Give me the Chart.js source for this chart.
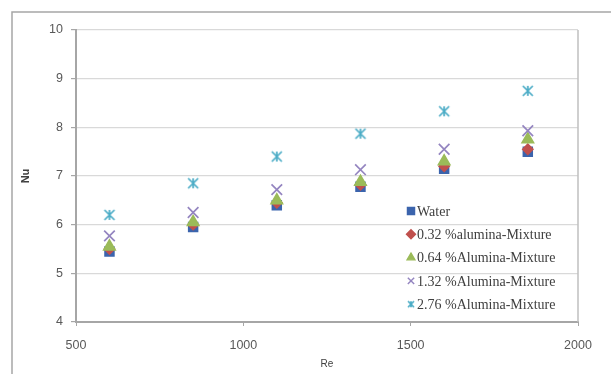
<!DOCTYPE html>
<html>
<head>
<meta charset="utf-8">
<script src="https://cdn.jsdelivr.net/npm/chart.js@4.4.0/dist/chart.umd.min.js"></script>
<style>
  html, body { margin: 0; padding: 0; background: #fff; }
  #wrap { width: 611px; height: 374px; }
</style>
</head>
<body>
<div id="wrap"><canvas id="chart" width="611" height="374"></canvas></div>
<script>
// Re values (x) and Nu values (y)
const re = [600, 850, 1100, 1350, 1600, 1850];
const water = [5.45, 5.95, 6.40, 6.78, 7.15, 7.50];
const al032 = [5.50, 6.00, 6.45, 6.82, 7.20, 7.55];
const al064 = [5.55, 6.05, 6.50, 6.88, 7.30, 7.75];
const al132 = [5.77, 6.25, 6.72, 7.13, 7.55, 7.93];
const al276 = [6.20, 6.85, 7.40, 7.87, 8.33, 8.75];
const seriesNames = ["Water", "0.32 %alumina-Mixture", "0.64 %Alumina-Mixture",
                     "1.32 %Alumina-Mixture", "2.76 %Alumina-Mixture"];
const xTicks = [500, 1000, 1500, 2000];
const yTicks = [4, 5, 6, 7, 8, 9, 10];

// excel style "star" marker: an x with a vertical bar
function starMarker(color, size) {
    const c = document.createElement("canvas");
    c.width = size; c.height = size;
    const g = c.getContext("2d");
    const m = 2, e = size - 2, h = size / 2;
    g.strokeStyle = color;
    g.lineWidth = 1.7;
    g.beginPath();
    g.moveTo(m, m); g.lineTo(e, e);
    g.moveTo(e, m); g.lineTo(m, e);
    g.moveTo(h, m); g.lineTo(h, e);
    g.stroke();
    return c;
}

function pts(ys) {
    return ys.map((y, i) => ({ x: re[i], y: y }));
}

const styles = [
    { pointStyle: "rect", color: "#3b64ad", radius: 6.2, order: 5 },
    { pointStyle: "rectRot", color: "#c0504d", radius: 5, order: 4 },
    { pointStyle: "triangle", color: "#9bbb59", radius: 6.5, order: 3 },
    { pointStyle: "crossRot", color: "#9485c0", radius: 7.5, order: 2 },
    { pointStyle: starMarker("#4bacc6", 14), color: "#4bacc6", radius: 7, order: 1 }
];
const allSeries = [water, al032, al064, al132, al276];

const datasets = allSeries.map((ys, i) => ({
    label: seriesNames[i],
    data: pts(ys),
    pointStyle: styles[i].pointStyle,
    pointRadius: styles[i].radius,
    pointBackgroundColor: styles[i].color,
    pointBorderColor: styles[i].color,
    pointBorderWidth: 1.7,
    showLine: false,
    order: styles[i].order
}));

const legendMarker = starMarker("#4bacc6", 10);

// outer frame + plot border + legend drawn inside the plot
const framePlugin = {
    id: "frame",
    beforeDraw(chart) {
        const ctx = chart.ctx;
        ctx.save();
        ctx.strokeStyle = "#a6a6a6";
        ctx.lineWidth = 1.5;
        ctx.beginPath();
        ctx.moveTo(12, 380);
        ctx.lineTo(12, 12);
        ctx.lineTo(620, 12);
        ctx.stroke();
        ctx.restore();
    },
    afterDatasetsDraw(chart) {
        const ctx = chart.ctx;
        const a = chart.chartArea;
        ctx.save();
        ctx.strokeStyle = "#bfbfbf";
        ctx.lineWidth = 1.5;
        ctx.beginPath();
        ctx.moveTo(a.right, a.top);
        ctx.lineTo(a.right, a.bottom);
        ctx.stroke();

        // legend
        const lx = 411, ly = 211, step = 23.3;
        ctx.font = "14px 'Liberation Serif', serif";
        ctx.textBaseline = "middle";
        chart.data.datasets.forEach((ds, i) => {
            const y = ly + i * step;
            ctx.fillStyle = ds.pointBackgroundColor;
            ctx.strokeStyle = ds.pointBorderColor;
            ctx.lineWidth = 1.4;
            Chart.helpers.drawPoint(ctx, {
                pointStyle: i === 4 ? legendMarker : ds.pointStyle,
                radius: i === 0 ? 5 : 4.5,
                rotation: 0,
                borderWidth: 1.4
            }, lx, y);
            ctx.fillStyle = "#404040";
            ctx.fillText(ds.label, lx + 6, y + 1);
        });
        ctx.restore();
    }
};

new Chart(document.getElementById("chart"), {
    type: "scatter",
    data: { datasets: datasets },
    options: {
        responsive: false,
        animation: false,
        layout: { padding: { left: 12, right: 33, top: 30, bottom: 0 } },
        plugins: { legend: { display: false }, tooltip: { enabled: false } },
        scales: {
            x: {
                type: "linear",
                min: 500,
                max: 2000,
                afterBuildTicks: (s) => { s.ticks = xTicks.map(v => ({ value: v })); },
                afterFit: (s) => { s.height = 52; },
                grid: { drawOnChartArea: false, tickLength: 4, color: "#a6a6a6", tickColor: "#a6a6a6" },
                border: { color: "#a6a6a6", width: 2 },
                ticks: { color: "#595959", font: { family: "'Liberation Sans', sans-serif", size: 12.5 }, padding: 12, maxRotation: 0,
                         callback: (v) => String(v) },
                title: { display: true, text: "Re", color: "#404040", font: { family: "'Liberation Sans', sans-serif", size: 10 }, padding: { top: 0, bottom: 4 } }
            },
            y: {
                type: "linear",
                min: 4,
                max: 10,
                afterBuildTicks: (s) => { s.ticks = yTicks.map(v => ({ value: v })); },
                afterFit: (s) => { s.width = 64; },
                grid: { color: "#d9d9d9", tickLength: 5, tickColor: "#a6a6a6", lineWidth: 1.2 },
                border: { color: "#a6a6a6", width: 2 },
                ticks: { color: "#595959", font: { family: "'Liberation Sans', sans-serif", size: 12.5 }, padding: 8,
                         callback: (v) => String(v) },
                title: { display: true, text: "Nu", color: "#404040", font: { family: "'Liberation Sans', sans-serif", size: 11, weight: "bold" }, padding: { top: 7, bottom: 0 } }
            }
        }
    },
    plugins: [framePlugin]
});
</script>
</body>
</html>
